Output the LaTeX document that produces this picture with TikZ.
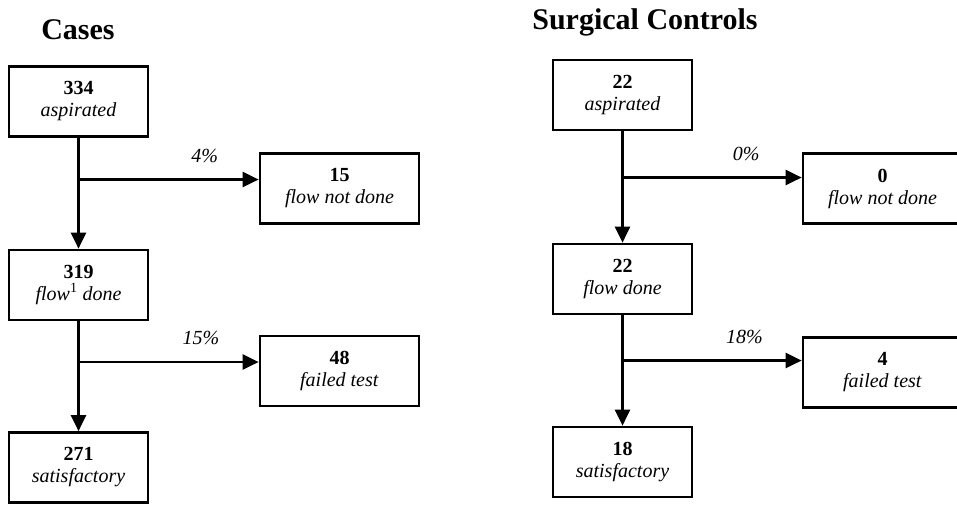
\documentclass[tikz,border=0pt]{standalone}
\usepackage{fontspec}
\setmainfont{Liberation Serif}
\usetikzlibrary{arrows.meta}

\begin{document}
\begin{tikzpicture}[
  x=1pt, y=-1pt,
  every node/.style={font=\fontsize{20}{22}\selectfont},
  stage/.style={draw, rectangle, line width=2.7pt, align=center, minimum width=139pt, minimum height=70pt, inner sep=0pt},
  outcome/.style={stage, minimum width=159pt},
  flowline/.style={line width=2.5pt, -{Triangle[length=16pt, width=15pt]}},
  pct/.style={font=\itshape\fontsize{20}{22}\selectfont},
  heading/.style={font=\bfseries\fontsize{30}{32}\selectfont}
]
\useasboundingbox (0,0) rectangle (957,504);

% cases
\node[heading] (casesT) at (78,30) {Cases};
\node[stage] (aspL) at (78.5,101.5) {\textbf{334}\\\textit{aspirated}};
\node[stage] (flowL) at (78.5,285) {\textbf{319}\\\textit{flow\textsuperscript{\upshape 1} done}};
\node[stage] (satL) at (78.5,467.5) {\textbf{271}\\\textit{satisfactory}};
\node[outcome] (nfL) at (339.5,188.5) {\textbf{15}\\\textit{flow not done}};
\node[outcome] (failL) at (339.5,371) {\textbf{48}\\\textit{failed test}};

\draw[flowline] (aspL) -- (flowL);
\draw[flowline] (flowL) -- (satL);
\coordinate (kL1) at ([yshift=9pt]nfL.west);
\coordinate (kL2) at ([yshift=9pt]failL.west);
\draw[flowline] (kL1 -| aspL.south) -- (kL1) node[pct, pos=0.7, yshift=24pt] {4\%};
\draw[flowline] (kL2 -| flowL.south) -- (kL2) node[pct, pos=0.68, yshift=24pt] {15\%};

% surgical controls
\node[heading] (ctrlT) at (645,22) {Surgical Controls};
\node[stage] (aspR) at (622.5,95) {\textbf{22}\\\textit{aspirated}};
\node[stage] (flowR) at (622.5,279) {\textbf{22}\\\textit{flow done}};
\node[stage] (satR) at (622.5,462) {\textbf{18}\\\textit{satisfactory}};
\node[outcome] (nfR) at (882.5,188.5) {\textbf{0}\\\textit{flow not done}};
\node[outcome] (failR) at (882.5,372.5) {\textbf{4}\\\textit{failed test}};

\draw[flowline] (aspR) -- (flowR);
\draw[flowline] (flowR) -- (satR);
\coordinate (kR1) at ([yshift=11pt]nfR.west);
\coordinate (kR2) at ([yshift=12pt]failR.west);
\draw[flowline] (kR1 -| aspR.south) -- (kR1) node[pct, pos=0.69, yshift=24pt] {0\%};
\draw[flowline] (kR2 -| flowR.south) -- (kR2) node[pct, pos=0.68, yshift=24pt] {18\%};
\end{tikzpicture}
\end{document}
